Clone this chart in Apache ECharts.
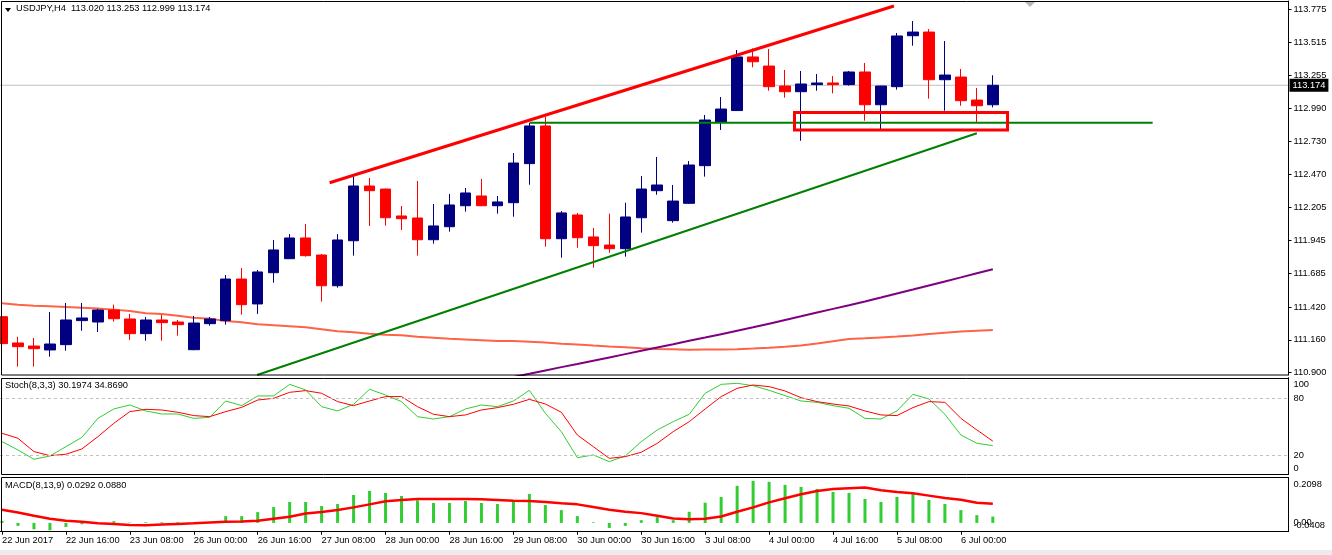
<!DOCTYPE html>
<html><head><meta charset="utf-8">
<script src="https://cdn.jsdelivr.net/npm/echarts@6/dist/echarts.min.js"></script>
<style>html,body{margin:0;padding:0;background:#fff}#c{width:1332px;height:555px}</style>
</head><body><div id="c"></div>
<script>
const times = [
'22 Jun 00:00','22 Jun 04:00','22 Jun 08:00','22 Jun 12:00','22 Jun 16:00','22 Jun 20:00',
'23 Jun 00:00','23 Jun 04:00','23 Jun 08:00','23 Jun 12:00','23 Jun 16:00','23 Jun 20:00',
'26 Jun 00:00','26 Jun 04:00','26 Jun 08:00','26 Jun 12:00','26 Jun 16:00','26 Jun 20:00',
'27 Jun 00:00','27 Jun 04:00','27 Jun 08:00','27 Jun 12:00','27 Jun 16:00','27 Jun 20:00',
'28 Jun 00:00','28 Jun 04:00','28 Jun 08:00','28 Jun 12:00','28 Jun 16:00','28 Jun 20:00',
'29 Jun 00:00','29 Jun 04:00','29 Jun 08:00','29 Jun 12:00','29 Jun 16:00','29 Jun 20:00',
'30 Jun 00:00','30 Jun 04:00','30 Jun 08:00','30 Jun 12:00','30 Jun 16:00','30 Jun 20:00',
'3 Jul 00:00','3 Jul 04:00','3 Jul 08:00','3 Jul 12:00','3 Jul 16:00','3 Jul 20:00',
'4 Jul 00:00','4 Jul 04:00','4 Jul 08:00','4 Jul 12:00','4 Jul 16:00','4 Jul 20:00',
'5 Jul 00:00','5 Jul 04:00','5 Jul 08:00','5 Jul 12:00','5 Jul 16:00','5 Jul 20:00',
'6 Jul 00:00','6 Jul 04:00','6 Jul 08:00'];
const emptySlots = 18;

const openP = [111.343,111.135,111.111,111.080,111.122,111.312,111.301,111.396,111.325,111.209,
111.317,111.301,111.082,111.288,111.312,111.641,111.444,111.691,111.802,111.966,
111.831,111.588,111.944,112.377,112.353,112.140,112.124,111.952,112.055,112.221,
112.298,112.221,112.245,112.554,112.852,111.960,112.148,111.974,111.910,111.881,
112.126,112.340,112.103,112.240,112.538,112.883,112.974,113.398,113.326,113.168,
113.123,113.179,113.192,113.179,113.279,113.020,113.163,113.566,113.595,113.218,
113.239,113.057,113.020];
const highP = [111.360,111.185,111.175,111.380,111.452,111.452,111.406,111.438,111.365,111.341,
111.357,111.317,111.349,111.341,111.673,111.728,111.713,111.950,111.997,112.077,
111.839,111.997,112.451,112.440,112.356,112.219,112.417,112.235,112.314,112.361,
112.433,112.298,112.638,112.878,112.925,112.179,112.164,112.045,112.158,112.245,
112.456,112.607,112.385,112.575,112.939,113.081,113.453,113.466,113.461,113.295,
113.287,113.263,113.247,113.287,113.350,113.170,113.588,113.682,113.619,113.524,
113.303,113.152,113.253];
const lowP = [111.106,110.948,110.948,111.027,111.074,111.232,111.222,111.304,111.159,111.153,
111.153,111.193,111.078,111.272,111.280,111.359,111.365,111.612,111.800,111.818,
111.462,111.573,111.826,112.061,112.063,112.029,111.826,111.921,112.016,112.174,
112.218,112.158,112.134,112.387,111.897,111.810,111.889,111.731,111.849,111.818,
112.008,112.308,112.087,112.235,112.451,112.820,112.970,113.316,113.131,113.076,
112.735,113.131,113.110,113.171,112.894,112.828,113.139,113.487,113.068,112.973,
113.012,112.878,112.999];
const closeP = [111.130,111.106,111.090,111.127,111.317,111.333,111.396,111.327,111.209,111.317,
111.296,111.280,111.293,111.325,111.641,111.438,111.697,111.871,111.966,111.826,
111.588,111.950,112.377,112.340,112.126,112.118,111.952,112.061,112.227,112.322,
112.221,112.251,112.559,112.852,111.960,112.164,111.968,111.905,111.881,112.132,
112.353,112.385,112.258,112.543,112.899,112.986,113.398,113.360,113.163,113.123,
113.184,113.192,113.179,113.279,113.020,113.168,113.564,113.595,113.218,113.255,
113.052,113.012,113.174];

const maSlow = [111.449,111.438,111.430,111.425,111.420,111.414,111.407,111.399,111.388,111.370,
111.365,111.351,111.335,111.327,111.309,111.299,111.283,111.275,111.267,111.259,
111.244,111.228,111.220,111.209,111.201,111.197,111.185,111.177,111.169,111.163,
111.157,111.151,111.151,111.145,111.138,111.130,111.123,111.115,111.108,111.102,
111.094,111.088,111.085,111.082,111.083,111.084,111.086,111.091,111.097,111.105,
111.115,111.131,111.149,111.167,111.172,111.179,111.186,111.195,111.206,111.217,
111.225,111.232,111.238];
const maFast = [null,null,null,null,null,null,null,null,null,null,
null,null,null,null,null,null,null,null,null,null,
null,null,null,null,null,null,null,null,null,null,
110.815,110.840,110.866,110.891,110.918,110.944,110.969,110.995,111.021,111.047,
111.073,111.099,111.125,111.152,111.178,111.205,111.232,111.259,111.288,111.317,
111.346,111.376,111.405,111.434,111.464,111.495,111.527,111.558,111.590,111.622,
111.654,111.687,111.718];

const stochK = [34.4,25.6,15.8,19.3,29.1,38.9,58.9,68.8,73.0,66.7,
63.5,63.5,58.9,60.0,77.2,72.3,82.5,82.5,94.7,88.8,
71.2,66.7,73.7,89.5,83.5,76.5,60.7,58.2,60.7,68.8,
73.0,71.2,77.2,88.4,64.2,44.9,17.5,20.4,13.3,19.3,
34.4,46.7,55.4,63.2,85.3,94.7,95.8,93.3,88.4,82.8,
77.2,75.8,72.3,69.5,58.9,58.2,66.7,84.2,79.3,63.2,
41.4,32.6,30.1974];
const stochD = [43.2,37.9,23.9,19.6,21.1,26.7,39.6,53.7,66.0,68.4,
67.7,65.3,61.8,60.7,66.0,70.5,78.2,80.0,86.3,88.1,
85.3,76.5,72.3,77.2,81.8,81.8,71.2,63.2,60.7,62.5,
67.7,70.2,73.7,78.9,74.0,65.3,41.4,29.1,16.8,18.6,
23.2,32.6,44.9,55.4,68.8,81.8,90.5,94.0,92.3,87.7,
80.7,76.5,74.0,71.9,66.7,62.5,61.8,70.2,76.5,75.8,
58.9,46.7,34.869];

const macdHist = [0.0093,-0.0140,-0.0296,-0.0342,-0.0187,-0.0062,-0.0016,0.0078,0.0016,0.0031,
0.0031,0.0031,0.0010,0.0020,0.0311,0.0311,0.0498,0.0731,0.0964,0.0964,
0.0778,0.0871,0.1291,0.1478,0.1384,0.1244,0.1042,0.0918,0.0918,0.1011,
0.0918,0.0871,0.1011,0.1338,0.0824,0.0591,0.0311,0.0031,-0.0233,-0.0140,
0.0124,0.0264,0.0124,0.0513,0.0933,0.1198,0.1711,0.1944,0.1898,0.1758,
0.1664,0.1571,0.1431,0.1384,0.1104,0.0964,0.1198,0.1338,0.1058,0.0871,
0.0591,0.0358,0.0292];
const macdSignal = [0.0607,0.0482,0.0327,0.0187,0.0093,0.0047,-0.0016,-0.0047,-0.0093,-0.0109,
-0.0078,-0.0047,-0.0016,0.0016,0.0047,0.0062,0.0093,0.0187,0.0280,0.0436,
0.0498,0.0591,0.0716,0.0856,0.0996,0.1058,0.1104,0.1104,0.1104,0.1104,
0.1089,0.1058,0.1027,0.1011,0.0964,0.0902,0.0856,0.0731,0.0607,0.0513,
0.0451,0.0327,0.0202,0.0171,0.0187,0.0296,0.0513,0.0716,0.0949,0.1135,
0.1322,0.1478,0.1571,0.1602,0.1633,0.1509,0.1431,0.1369,0.1260,0.1151,
0.1073,0.0933,0.0880];

const priceTicks = [110.900,111.160,111.420,111.685,111.945,112.205,112.470,112.730,112.990,113.255,113.515,113.775];
const xTickLabels = ['22 Jun 2017','22 Jun 16:00','23 Jun 08:00','26 Jun 00:00','26 Jun 16:00','27 Jun 08:00',
'28 Jun 00:00','28 Jun 16:00','29 Jun 08:00','30 Jun 00:00','30 Jun 16:00','3 Jul 08:00',
'4 Jul 00:00','4 Jul 16:00','5 Jul 08:00','6 Jul 00:00'];
const stochTickValues = [6.6, 20, 80, 95];
const stochTickLabels = ['0', '20', '80', '100'];
const macdTickValues = [-0.0115, 0, 0.1792];
const macdTickLabels = ['-0.0408', '0.00', '0.2098'];

const redTrend = [[20.5, 112.403], [55.81, 113.801]];
const greenTrend = [[15.96, 110.882], [61.0, 112.794]];
const supportLevel = {from: 33.04, to: 72.0, price: 112.878};
const supportBox = {x0: 49.59, x1: 62.92, low: 112.820, high: 112.959};
const lastClose = 113.174;
const titleMain = 'USDJPY,H4  113.020 113.253 112.999 113.174';
const titleStoch = 'Stoch(8,3,3) 30.1974 34.8690';
const titleMacd = 'MACD(8,13,9) 0.0292 0.0880';

// ---- build ----
const FONT = '"Liberation Sans", Arial, sans-serif';
const FS = 9.3;
const cats = times.concat(new Array(emptySlots).fill(''));
const N = cats.length;
const candles = openP.map((o, i) => [o, closeP[i], lowP[i], highP[i]]);
const nearestLabel = (vals, labels) => v => {
  let b = 0; for (let i = 1; i < vals.length; i++) if (Math.abs(vals[i] - v) < Math.abs(vals[b] - v)) b = i;
  return labels[b];
};
const GL = -6, GW = 1294.5;
const grids = [
  {left: GL, width: GW, top: 1, height: 374},
  {left: GL, width: GW, top: 377.7, height: 96.6},
  {left: GL, width: GW, top: 477.5, height: 54.2}
].map(g => Object.assign({outerBoundsMode: 'none', containLabel: false, show: false}, g));

const hiddenCat = gi => ({type: 'category', gridIndex: gi, data: cats, boundaryGap: true,
  axisLine: {show: false, onZero: false}, axisTick: {show: false}, axisLabel: {show: false}, splitLine: {show: false}});
const labelIdx = (i) => i % 4 === 0 && (i / 4) < xTickLabels.length;

const rightAxisBase = {type: 'value', position: 'right', scale: true,
  axisLine: {show: true, onZero: false, lineStyle: {color: '#000', width: 1}},
  splitLine: {show: false}};
const lbl = {fontSize: FS, color: '#000', margin: 5, fontFamily: FONT, hideOverlap: false};

// one axis per MACD label so the overlapping "0.00" / "-0.0408" both draw
const macdAxes = macdTickValues.map((v, i) => Object.assign({}, rightAxisBase, {gridIndex: 2, min: -0.0408, max: 0.2098,
  axisLine: {show: i === 0, onZero: false, lineStyle: {color: '#000'}}, axisTick: {show: false},
  axisLabel: Object.assign({}, lbl, {customValues: [v], formatter: () => macdTickLabels[i]})}));

const option = {
  animation: false,
  backgroundColor: '#fff',
  textStyle: {fontFamily: FONT},
  title: [
    {text: titleMain, left: 16, top: 4, padding: 0, textStyle: {fontSize: FS, fontWeight: 'normal', color: '#000', fontFamily: FONT}},
    {text: titleStoch, left: 5, top: 381, padding: 0, textStyle: {fontSize: FS, fontWeight: 'normal', color: '#000', fontFamily: FONT}},
    {text: titleMacd, left: 5, top: 481, padding: 0, textStyle: {fontSize: FS, fontWeight: 'normal', color: '#000', fontFamily: FONT}}
  ],
  grid: grids,
  xAxis: [
    hiddenCat(0),
    {type: 'value', gridIndex: 0, min: -0.5, max: N - 0.5, show: false},
    hiddenCat(1),
    {type: 'category', gridIndex: 2, data: cats, boundaryGap: true,
      axisLine: {show: true, onZero: false, lineStyle: {color: '#000'}},
      axisTick: {show: true, alignWithLabel: true, interval: labelIdx, length: 3, lineStyle: {color: '#000'}},
      axisLabel: {show: true, interval: labelIdx, align: 'left', margin: 4, fontSize: FS, color: '#000', fontFamily: FONT,
        formatter: (v, i) => xTickLabels[i / 4] || ''},
      splitLine: {show: false}}
  ],
  yAxis: [
    Object.assign({}, rightAxisBase, {gridIndex: 0, min: 110.8818, max: 113.8407,
      axisTick: {show: true, length: 3, customValues: priceTicks, lineStyle: {color: '#000'}},
      axisLabel: Object.assign({}, lbl, {customValues: priceTicks,
        formatter: v => nearestLabel(priceTicks, priceTicks.map(p => p.toFixed(3)))(v)})}),
    Object.assign({}, rightAxisBase, {gridIndex: 0, min: 110.8818, max: 113.8407,
      axisLine: {show: false}, axisTick: {show: false},
      axisLabel: {customValues: [lastClose], formatter: v => lastClose.toFixed(3), fontSize: FS, color: '#fff',
        backgroundColor: '#000', padding: [2, 3, 2, 3], margin: 1, fontFamily: FONT}}),
    Object.assign({}, rightAxisBase, {gridIndex: 1, min: 0, max: 101.7,
      axisTick: {show: false},
      axisLabel: Object.assign({}, lbl, {customValues: stochTickValues, formatter: nearestLabel(stochTickValues, stochTickLabels)})})
  ].concat(macdAxes),
  series: [
    {type: 'line', name: 'last', xAxisIndex: 1, yAxisIndex: 0, z: 1, symbol: 'none', silent: true,
      data: [[-0.5, lastClose], [N - 0.5, lastClose]], lineStyle: {color: '#c0c0c0', width: 1}},
    {type: 'line', name: 'MA slow', xAxisIndex: 0, yAxisIndex: 0, z: 2, symbol: 'none', silent: true,
      data: maSlow, lineStyle: {color: '#ff6347', width: 2}},
    {type: 'line', name: 'MA fast', xAxisIndex: 0, yAxisIndex: 0, z: 2, symbol: 'none', silent: true,
      data: maFast, lineStyle: {color: '#800080', width: 2}},
    {type: 'candlestick', name: 'USDJPY', xAxisIndex: 0, yAxisIndex: 0, z: 3, barWidth: 11, silent: true,
      data: candles,
      itemStyle: {color: '#000080', color0: '#ff0000', borderColor: '#000080', borderColor0: '#ff0000', borderWidth: 1}},
    {type: 'line', name: 'red trend', xAxisIndex: 1, yAxisIndex: 0, z: 5, symbol: 'none', silent: true,
      data: redTrend, lineStyle: {color: '#ff0000', width: 3}},
    {type: 'line', name: 'green trend', xAxisIndex: 1, yAxisIndex: 0, z: 5, symbol: 'none', silent: true,
      data: greenTrend, lineStyle: {color: '#008000', width: 2}},
    {type: 'line', name: 'support', xAxisIndex: 1, yAxisIndex: 0, z: 5, symbol: 'none', silent: true,
      data: [[supportLevel.from, supportLevel.price], [supportLevel.to, supportLevel.price]],
      lineStyle: {color: '#008000', width: 2}},
    {type: 'line', name: 'box', xAxisIndex: 1, yAxisIndex: 0, z: 6, symbol: 'none', silent: true,
      data: [[supportBox.x0, supportBox.high], [supportBox.x1, supportBox.high], [supportBox.x1, supportBox.low],
             [supportBox.x0, supportBox.low], [supportBox.x0, supportBox.high]],
      lineStyle: {color: '#ff0000', width: 3, join: 'miter', cap: 'square'}},
    {type: 'line', name: '%K', xAxisIndex: 2, yAxisIndex: 2, symbol: 'none', silent: true,
      data: stochK, lineStyle: {color: '#32cd32', width: 1},
      markLine: {symbol: ['none', 'none'], silent: true, label: {show: false},
        lineStyle: {color: '#c0c0c0', width: 1, type: [3, 3]}, data: [{yAxis: 20}, {yAxis: 80}]}},
    {type: 'line', name: '%D', xAxisIndex: 2, yAxisIndex: 2, symbol: 'none', silent: true,
      data: stochD, lineStyle: {color: '#ff0000', width: 1}},
    {type: 'bar', name: 'MACD', xAxisIndex: 3, yAxisIndex: 3, barWidth: 3, silent: true,
      data: macdHist, itemStyle: {color: '#32cd32'}},
    {type: 'line', name: 'Signal', xAxisIndex: 3, yAxisIndex: 3, symbol: 'none', silent: true, z: 3,
      data: macdSignal, lineStyle: {color: '#ff0000', width: 2.5}}
  ],
  graphic: [
    {type: 'rect', z: 100, silent: true, shape: {x: 1.5, y: 1.5, width: 1287, height: 373.5}, style: {fill: 'none', stroke: '#000', lineWidth: 1}},
    {type: 'rect', z: 100, silent: true, shape: {x: 1.5, y: 378.5, width: 1287, height: 96}, style: {fill: 'none', stroke: '#000', lineWidth: 1}},
    {type: 'rect', z: 100, silent: true, shape: {x: 1.5, y: 477.5, width: 1287, height: 54}, style: {fill: 'none', stroke: '#000', lineWidth: 1}},
    {type: 'polygon', z: 100, silent: true, shape: {points: [[5, 8], [11, 8], [8, 12]]}, style: {fill: '#000'}},
    {type: 'polygon', z: 100, silent: true, shape: {points: [[1025, 2], [1035, 2], [1030, 7]]}, style: {fill: '#b8b8b8'}},
    {type: 'rect', z: 0, silent: true, shape: {x: 0, y: 550, width: 1332, height: 5}, style: {fill: '#ececec'}}
  ]
};
const chart = echarts.init(document.getElementById('c'), null, {renderer: 'canvas'});
chart.setOption(option);
</script></body></html>
